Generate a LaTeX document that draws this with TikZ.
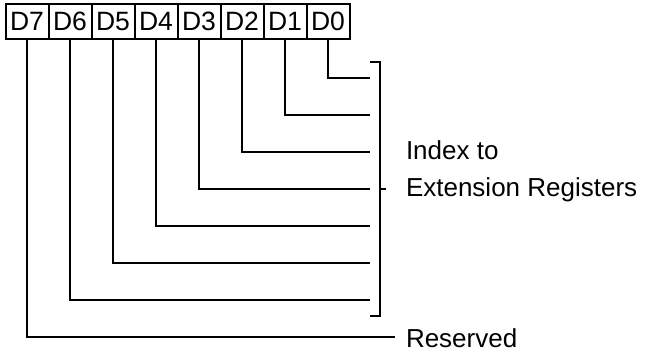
\documentclass[tikz,border=0pt]{standalone}
\usepackage{fontspec}
\setmainfont{Liberation Sans}
\usetikzlibrary{positioning}

\begin{document}
\begin{tikzpicture}[x=1pt,y=-1pt,line width=2pt,node distance=0pt,bit/.style={draw,outer sep=0pt,inner sep=0pt,minimum width=43pt,minimum height=35pt,font=\fontsize{26.5}{31}\selectfont},lbl/.style={anchor=base west,inner sep=0pt,font=\fontsize{26}{31}\selectfont}]
\useasboundingbox (0,0) rectangle (647,352);
\node[bit] at (27,21.5) (d7) {D7};
\node[bit,right=of d7] (d6) {D6};
\node[bit,right=of d6] (d5) {D5};
\node[bit,right=of d5] (d4) {D4};
\node[bit,right=of d4] (d3) {D3};
\node[bit,right=of d3] (d2) {D2};
\node[bit,right=of d2] (d1) {D1};
\node[bit,right=of d1] (d0) {D0};
% ends of the bit lines at the bracket
\coordinate (e0) at (370,78);
\coordinate (e1) at (370,115);
\coordinate (e2) at (370,152);
\coordinate (e3) at (370,189);
\coordinate (e4) at (370,226);
\coordinate (e5) at (370,263);
\coordinate (e6) at (370,300);
\coordinate (e7) at (395,337);
\draw (d0.south) |- (e0);
\draw (d1.south) |- (e1);
\draw (d2.south) |- (e2);
\draw (d3.south) |- (e3);
\draw (d4.south) |- (e4);
\draw (d5.south) |- (e5);
\draw (d6.south) |- (e6);
\draw (d7.south) |- (e7);
% bracket
\draw (370,62) -- (380,62) -- (380,316) -- (370,316);
\draw (380,189) -- (386,189);
\node[lbl] (idx) at (405,160) {Index to};
\node[lbl] (ext) at (405,197) {Extension Registers};
\node[lbl] (rsv) at (405,347) {Reserved};
\end{tikzpicture}
\end{document}
